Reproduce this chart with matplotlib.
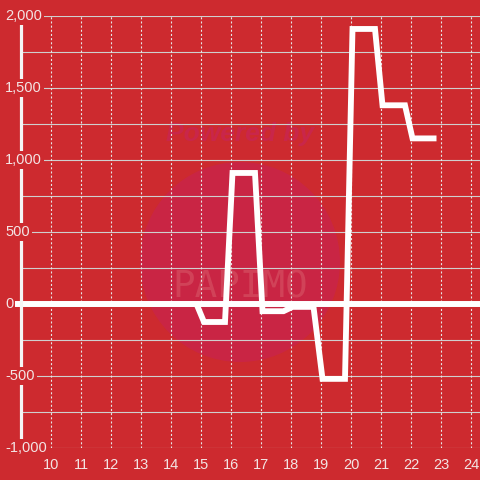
import matplotlib
matplotlib.use("Agg")
import matplotlib.pyplot as plt
from matplotlib.patches import Circle

# data
x_vals = [10, 14.85, 15.1, 15.8, 16.05, 16.8, 17.05, 17.75, 18.05, 18.75,
          19.05, 19.8, 20.05, 20.8, 21.05, 21.8, 22.05, 22.85]
y_vals = [0, 0, -125, -125, 910, 910, -50, -50, -20, -20,
          -520, -520, 1910, 1910, 1380, 1380, 1150, 1150]
x_ticks = [10, 11, 12, 13, 14, 15, 16, 17, 18, 19, 20, 21, 22, 23, 24]
y_ticks = [-1000, -500, 0, 500, 1000, 1500, 2000]
y_labels = ["-1,000", "-500", "0", "500", "1,000", "1,500", "2,000"]
y_minor = [-750, -250, 250, 750, 1250, 1750]

bg = "#CD2A2F"
txt = "#F3E4E4"
plt.rcParams['font.family'] = ['Liberation Sans', 'DejaVu Sans']
plt.rcParams['lines.scale_dashes'] = False

fig = plt.figure(figsize=(4.8, 4.8), dpi=100, facecolor=bg)
ax = fig.add_axes([21 / 480, 32 / 480, 459 / 480, 432 / 480])
ax.set_facecolor("none")

# watermark behind everything
fig.add_artist(Circle((0.5, 1 - 262 / 480), 100 / 480, transform=fig.transFigure,
                      facecolor="#C9244A", edgecolor="none", alpha=0.8, zorder=-1))
fig.text(0.5, 1 - 134 / 480, "Powered by", ha="center", va="center", fontsize=19,
         fontweight="bold", fontstyle="italic", color="#C9264A", zorder=-1)
fig.text(0.5, 1 - 288 / 480, "PAPIMO", ha="center", va="center", fontsize=27,
         family="DejaVu Sans Mono", color="#D85A6A", alpha=0.55, zorder=-1)

ax.set_xlim(9, 24.3)
ax.set_ylim(-1000, 2000)

for v in y_ticks + y_minor:
    ax.axhline(v, color="#CFCFCF", lw=0.8, zorder=1)
for v in x_ticks:
    ax.axvline(v, color="#E6E6E6", lw=0.8, linestyle=(0, (1.5, 1.5)), zorder=1)

ax.axhline(0, xmin=-4 / 459, xmax=1, color="white", lw=4.3, clip_on=False, zorder=3)
ax.plot(x_vals, y_vals, color="white", lw=4.2, solid_joinstyle="miter",
        solid_capstyle="butt", zorder=4)

for s in ["top", "right", "bottom"]:
    ax.spines[s].set_visible(False)
ax.spines["left"].set_color("#F5F5F5")
ax.spines["left"].set_linewidth(2.3)
ax.spines["left"].set_zorder(5)

ax.set_xticks(x_ticks)
ax.set_xticklabels([str(t) for t in x_ticks])
ax.tick_params(axis="x", length=0, pad=7, labelsize=10.5, labelcolor=txt)
ax.set_yticks([])

for v, lab in zip(y_ticks, y_labels):
    ax.text(-16 / 459, v, lab, ha="left", va="center", fontsize=10.5, color=txt,
            transform=ax.get_yaxis_transform(), zorder=6, clip_on=False,
            bbox=dict(facecolor=bg, edgecolor="none", pad=1.5))

fig.savefig("out.png", dpi=100, facecolor=bg)
